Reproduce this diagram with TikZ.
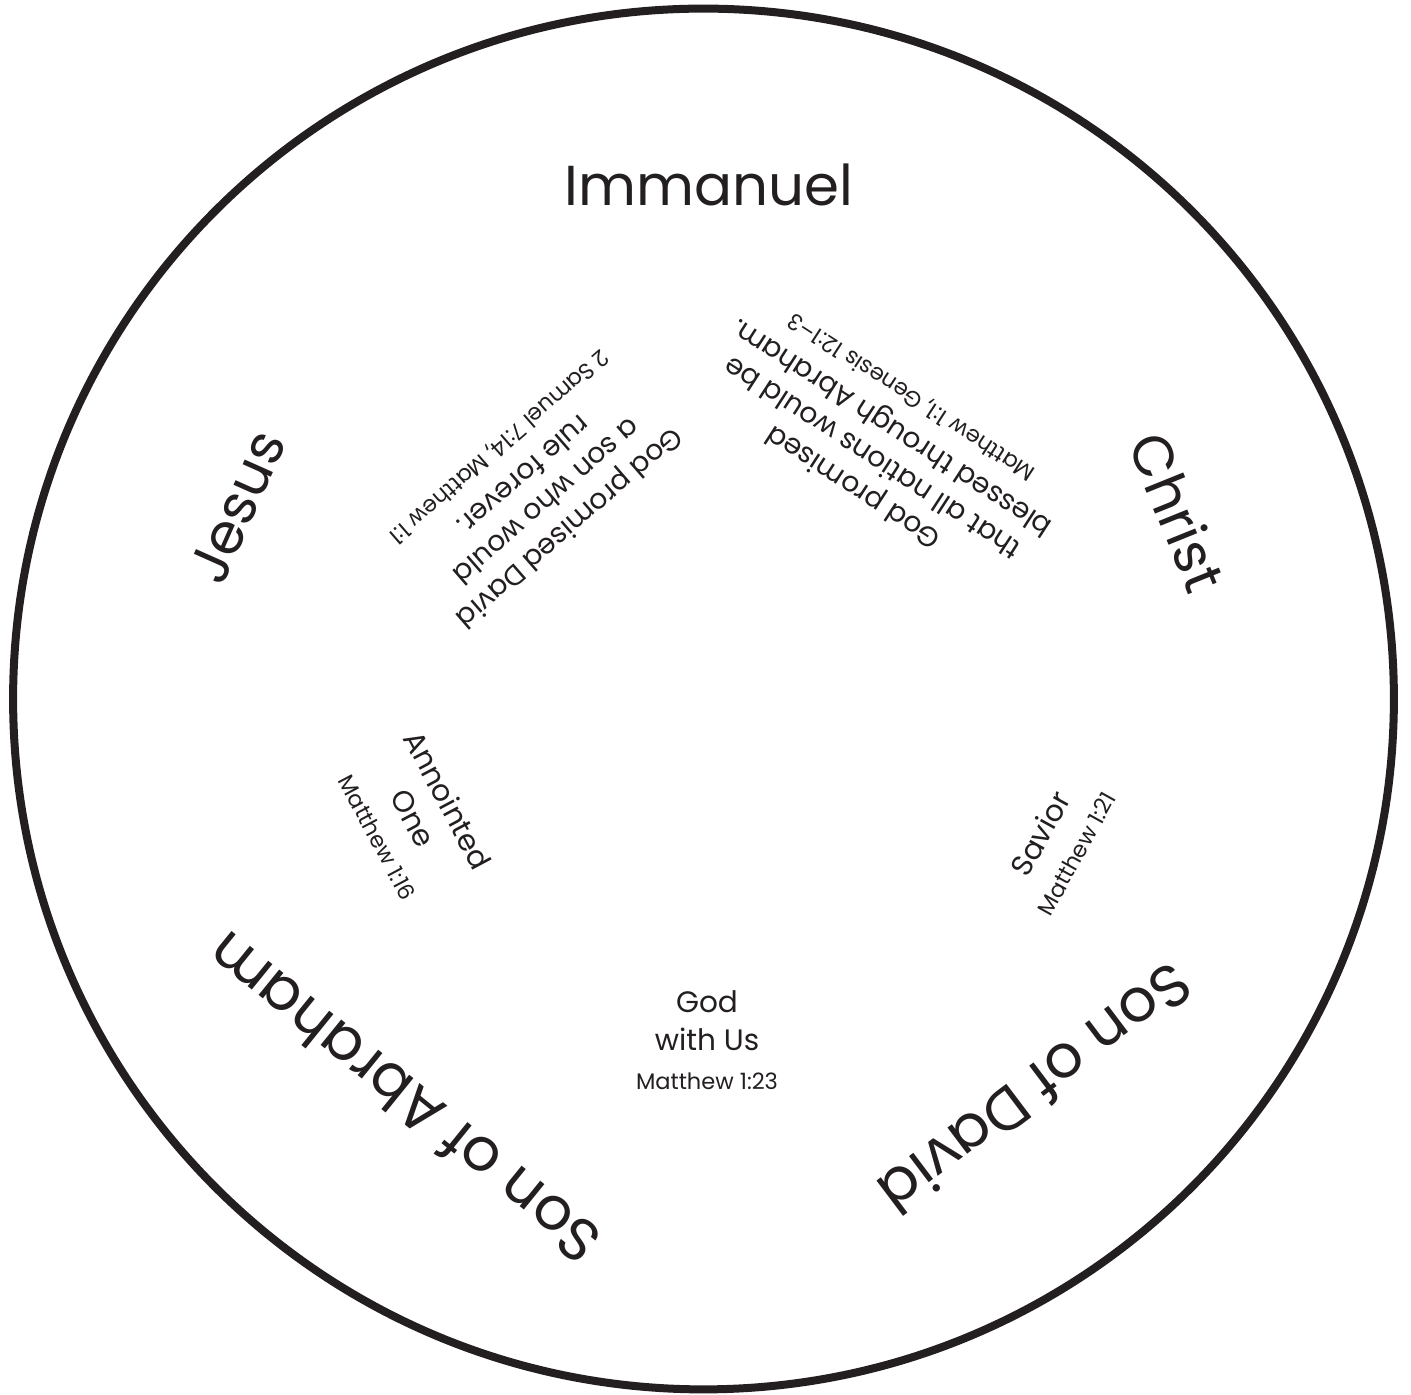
\documentclass[tikz,border=0pt]{standalone}
\usepackage{fontspec}
\setmainfont{Poppins}
\usepackage{tikz}
\definecolor{inkblack}{HTML}{231F20}
\newcommand{\versesize}{\fontsize{6.4}{8}\selectfont}

\begin{document}
\begin{tikzpicture}[
		x=0.01cm,y=-0.01cm,
		line cap=round,
		ring/.style={draw=inkblack, line width=0.08cm},
		bigname/.style={font=\fontsize{16}{18}\selectfont, text=inkblack, inner sep=0pt},
		longname/.style={bigname, font=\fontsize{17}{19}\selectfont},
		promise/.style={font=\fontsize{8}{10}\selectfont, text=inkblack, inner sep=0pt, align=center},
		meaning/.style={font=\fontsize{8.4}{11}\selectfont, text=inkblack, inner sep=0pt, align=center}
	]
	
	% Frame
	\fill[white] (0,0) rectangle (1411,1395);
	\useasboundingbox (0,0) rectangle (1411,1395);
	\node[ring, circle, minimum size=13.8cm, inner sep=0pt] (dial) at (703.5,699) {};
	
	% Outer names
	\node[bigname] (immanuel) at (709,185) {Immanuel};
	\node[bigname, rotate=-68] (christ) at (1178,512) {Christ};
	\node[longname, rotate=-143] (sondavid) at (1036,1090) {Son of David};
	\node[longname, rotate=141] (sonabraham) at (403,1099) {Son of Abraham};
	\node[bigname, rotate=66] (jesus) at (237,507) {Jesus};
	
	% Promises
	\node[promise, rotate=-139] (davidpromise) at (535,488) {God promised David\\a son who would\\rule forever.\\{\versesize 2 Samuel 7:14, Matthew 1:1}};
	\node[promise, rotate=147] (abrahampromise) at (882,443) {God promised\\that all nations would be\\blessed through Abraham.\\{\versesize Matthew 1:1, Genesis 12:1--3}};
	
	% Meanings
	\node[meaning, rotate=-62] (anointed) at (414,818) {Annointed\\One\\{\versesize Matthew 1:16}};
	\node[meaning, rotate=61] (savior) at (1057,843) {Savior\\{\versesize Matthew 1:21}};
	\node[meaning] (godwithus) at (707,1040) {God\\with Us\\{\versesize Matthew 1:23}};
	
\end{tikzpicture}
\end{document}
